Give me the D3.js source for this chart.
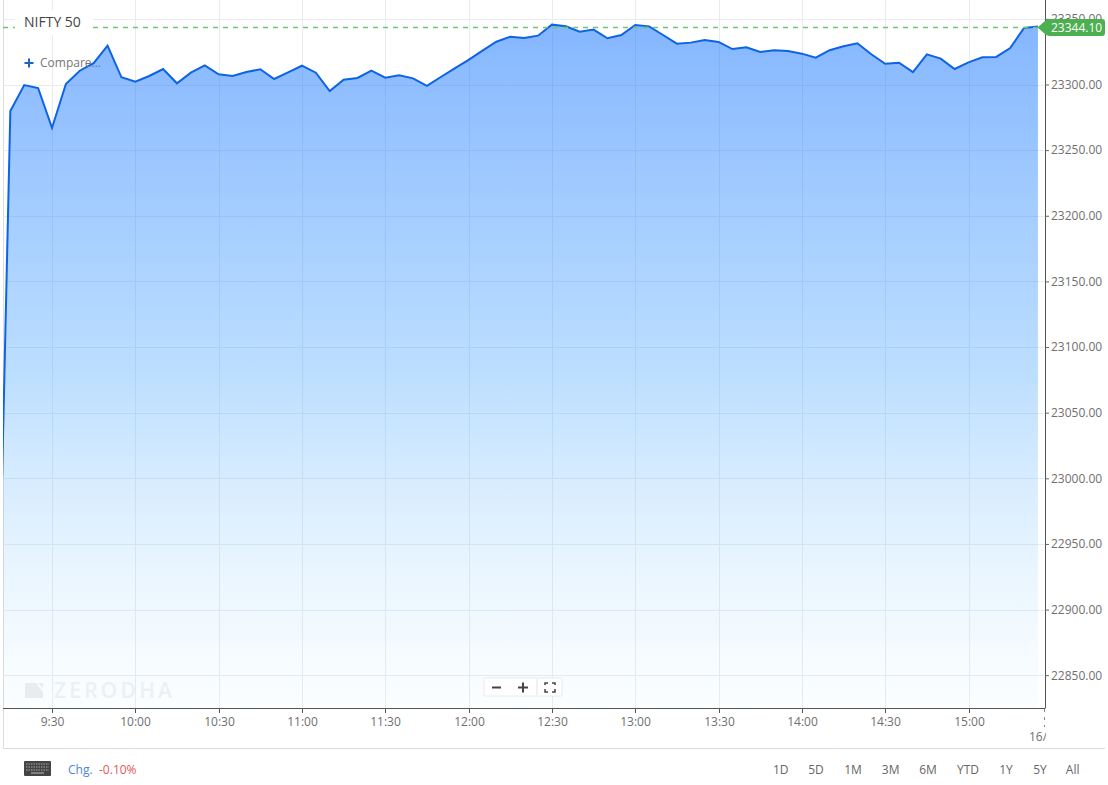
<!DOCTYPE html>
<html><head><meta charset="utf-8">
<style>html,body{margin:0;padding:0;background:#fff;overflow:hidden}svg{display:block}text{font-family:"Open Sans",sans-serif}</style>
<script src="https://cdnjs.cloudflare.com/ajax/libs/d3/7.8.5/d3.min.js"></script>
</head><body><div id="c"></div>
<script>
const times = ["9:15","9:20","9:25","9:30","9:35","9:40","9:45","9:50","9:55","10:00","10:05","10:10","10:15","10:20","10:25","10:30","10:35","10:40","10:45","10:50","10:55","11:00","11:05","11:10","11:15","11:20","11:25","11:30","11:35","11:40","11:45","11:50","11:55","12:00","12:05","12:10","12:15","12:20","12:25","12:30","12:35","12:40","12:45","12:50","12:55","13:00","13:05","13:10","13:15","13:20","13:25","13:30","13:35","13:40","13:45","13:50","13:55","14:00","14:05","14:10","14:15","14:20","14:25","14:30","14:35","14:40","14:45","14:50","14:55","15:00","15:05","15:10","15:15","15:20","15:25"];
const values = [23279.8,23299.6,23297.3,23266.9,23300.4,23310.5,23316.2,23329.6,23305.5,23302.1,23306.5,23311.8,23300.9,23309,23314.6,23307.8,23306.5,23309.5,23311.6,23304.2,23309.3,23314.3,23309,23295,23303.7,23305,23310.5,23305.2,23307,23304.7,23298.9,23305.7,23312.3,23318.7,23325.8,23332.6,23336.4,23335.4,23337.2,23345.6,23344.3,23340.2,23341.8,23335.2,23337.7,23345.3,23344.3,23337.7,23331.1,23331.9,23333.9,23332.4,23327,23328.3,23324.8,23326.1,23325.5,23323.5,23320.4,23326.1,23329.1,23331.4,23323,23315.8,23316.6,23309.5,23323,23319.7,23311.8,23316.9,23320.7,23321,23327.8,23343.1,23344.1];
const openTime = "9:10", openValue = 22810;
const xTicks = ["9:30","10:00","10:30","11:00","11:30","12:00","12:30","13:00","13:30","14:00","14:30","15:00"];
const yTicks = [22850,22900,22950,23000,23050,23100,23150,23200,23250,23300,23350];
const lastValue = 23344.10;
const ranges = [["1D",780.7],["5D",816],["1M",853],["3M",890.7],["6M",928],["YTD",968],["1Y",1006],["5Y",1040],["All",1072.7]];

const mins = s => { const [h,m] = s.split(":").map(Number); return h*60+m; };
const W=1108,H=785, L=3, R=1045, B=708;
const x = d3.scaleLinear().domain([mins("9:30"),mins("15:00")]).range([52,968.5]);
const y = d3.scaleLinear().domain([22850,23300]).range([675.2,84.5]);
const svg = d3.select("#c").append("svg").attr("width",W).attr("height",H);
const defs = svg.append("defs");
defs.append("clipPath").attr("id","plot").append("rect").attr("x",L).attr("y",0).attr("width",R-L).attr("height",B);
defs.append("clipPath").attr("id","dateclip").append("rect").attr("x",L).attr("y",B).attr("width",R-L+1).attr("height",40);
const grad = defs.append("linearGradient").attr("id","g").attr("x1",0).attr("x2",0).attr("y1",0).attr("y2",1);
grad.append("stop").attr("offset","0%").attr("stop-color","#0a6cff").attr("stop-opacity",0.5);
grad.append("stop").attr("offset","50%").attr("stop-color","#4aa6ff").attr("stop-opacity",0.37);
grad.append("stop").attr("offset","100%").attr("stop-color","#b5e4ff").attr("stop-opacity",0.03);

// frame
svg.append("line").attr("x1",L+.5).attr("x2",L+.5).attr("y1",0).attr("y2",748).attr("stroke","#dcdcdc");
svg.append("line").attr("x1",L).attr("x2",1105).attr("y1",748.5).attr("y2",748.5).attr("stroke","#dedede");

// grid
const grid = svg.append("g").attr("stroke","#e9ecef").attr("stroke-width",1);
grid.selectAll(".h").data(yTicks).join("line").attr("x1",L).attr("x2",R)
  .attr("y1",d=>Math.round(y(d))+.5).attr("y2",d=>Math.round(y(d))+.5);
grid.selectAll(".v").data(xTicks).join("line").attr("y1",0).attr("y2",B)
  .attr("x1",d=>Math.round(x(mins(d)))+.5).attr("x2",d=>Math.round(x(mins(d)))+.5);

// area and line
const pts = [[mins(openTime),openValue]].concat(times.map((t,i)=>[mins(t),values[i]]));
const plot = svg.append("g").attr("clip-path","url(#plot)");
plot.append("path").datum(pts).attr("fill","url(#g)")
  .attr("d",d3.area().x(d=>x(d[0])).y0(B).y1(d=>y(d[1])));
plot.append("path").datum(pts).attr("fill","none").attr("stroke","#0d63e6").attr("stroke-width",2)
  .attr("stroke-linejoin","miter").attr("d",d3.line().x(d=>x(d[0])).y(d=>y(d[1])));

// current price dashed line
svg.append("line").attr("x1",L).attr("x2",R).attr("y1",27.5).attr("y2",27.5)
  .attr("stroke","#6cc474").attr("stroke-dasharray","5 5").attr("stroke-width",1.6);

// watermark
const wm = svg.append("g").attr("fill","#e9ecef");
wm.append("path").attr("d","M25 683H36L43 692V698H25Z M38 683H43V688Z");
wm.append("text").attr("x",54).attr("y",698).attr("font-size",21).attr("letter-spacing",3.2).attr("font-weight",600).attr("fill","#edf0f2").text("ZERODHA");

// axes
const xAxis = svg.append("g").attr("transform",`translate(0,${B})`)
  .call(d3.axisBottom(x).tickValues(xTicks.map(mins)).tickSize(5).tickPadding(3).tickFormat((d,i)=>xTicks[i]));
xAxis.select(".domain").attr("d",`M${L},0.5H${R}`).attr("stroke","#555");
xAxis.selectAll(".tick line").attr("stroke","#555");
xAxis.selectAll("text").attr("fill","#6f6f6f").attr("font-size",12).attr("y",7).attr("dy","0.9em");
xAxis.selectAll(".tick").attr("transform",d=>`translate(${Math.round(x(d))+.5},0)`);

const yAxis = svg.append("g").attr("transform",`translate(${R},0)`)
  .call(d3.axisRight(y).tickValues(yTicks).tickSize(4).tickPadding(2).tickFormat(d3.format(".2f")));
yAxis.select(".domain").attr("d",`M0.5,0V${B+.5}`).attr("stroke","#555");
yAxis.selectAll(".tick line").attr("stroke","#666");
yAxis.selectAll("text").attr("fill","#6f6f6f").attr("font-size",12);

// session tick
svg.append("line").attr("x1",1044.5).attr("x2",1044.5).attr("y1",709).attr("y2",727)
  .attr("stroke","#888").attr("stroke-dasharray","3 5");
svg.append("g").attr("clip-path","url(#dateclip)").append("text").attr("x",1029).attr("y",741)
  .attr("font-size",12).attr("fill","#6f6f6f").text("16/");

// price badge
svg.append("path").attr("fill","#4caf50")
  .attr("d","M1037.5,27.5L1045,21Q1047,19 1050,19H1102Q1105,19 1105,22V33Q1105,36 1102,36H1050Q1047,36 1045,34Z");
svg.append("text").attr("x",1051).attr("y",32).attr("fill","#fff").attr("font-size",12)
  .text(d3.format(".2f")(lastValue));

// title
svg.append("rect").attr("x",15).attr("y",10).attr("width",78).attr("height",25).attr("fill","#fff");
svg.append("text").attr("x",24).attr("y",27).attr("font-size",14).attr("fill","#444").text("NIFTY 50");
svg.append("text").attr("x",40).attr("y",67).attr("font-size",12).attr("fill","#777").text("Compare...");
svg.append("path").attr("d","M24.5 63H33.5M29 58.5V67.5").attr("stroke","#1d62c9").attr("stroke-width",2).attr("fill","none");

// zoom control
const z = svg.append("g");
z.append("rect").attr("x",484).attr("y",678).attr("width",78).attr("height",18).attr("fill","#fff").attr("stroke","#e8eaec").attr("rx",1);
z.append("line").attr("x1",537).attr("x2",537).attr("y1",679).attr("y2",695).attr("stroke","#e3e3e3");
z.append("path").attr("d","M492 687.5H501M518 687.5H528M523 682.5V692.5").attr("stroke","#444").attr("stroke-width",2).attr("fill","none");
z.append("path").attr("d","M545 685V683H548M552 683H555V685M555 689V692H552M548 692H545V689").attr("stroke","#444").attr("stroke-width",1.5).attr("fill","none");

// footer
const kb = svg.append("g");
kb.append("rect").attr("x",24).attr("y",761).attr("width",27).attr("height",15).attr("fill","#444").attr("rx",1);
const kbRows = [764,767,770];
kbRows.forEach(ky => kb.append("line").attr("x1",26).attr("x2",49).attr("y1",ky).attr("y2",ky).attr("stroke","#aaa").attr("stroke-dasharray","1.5 1"));
kb.append("line").attr("x1",31).attr("x2",44).attr("y1",773).attr("y2",773).attr("stroke","#bbb");
svg.append("text").attr("x",68).attr("y",774).attr("font-size",12).attr("fill","#4a86d8").text("Chg.");
svg.append("text").attr("x",99).attr("y",774).attr("font-size",12).attr("fill","#e0595b").text("-0.10%");
svg.selectAll(".rng").data(ranges).join("text").attr("x",d=>d[1]).attr("y",774).attr("text-anchor","middle")
  .attr("font-size",12).attr("fill","#666").text(d=>d[0]);
</script></body></html>
